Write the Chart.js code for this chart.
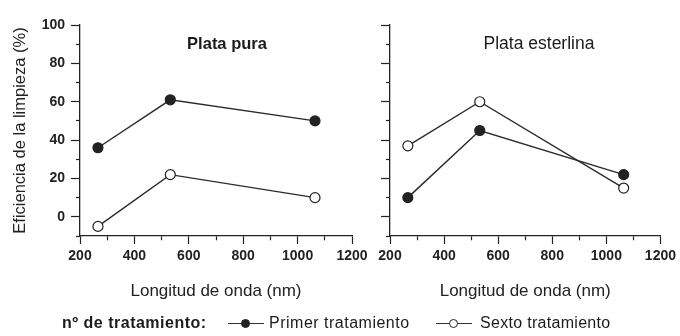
<!DOCTYPE html>
<html>
<head>
<meta charset="utf-8">
<script src="https://cdn.jsdelivr.net/npm/chart.js@4.4.1/dist/chart.umd.min.js"></script>
<style>
  body { margin: 0; background: #fff; width: 680px; height: 336px; overflow: hidden; position: relative;
         font-family: "Liberation Sans", Arial, sans-serif; color: #1c1c1c; }
  canvas { position: absolute; top: 0; }
  #left { left: 0; }
  #right { left: 360px; }
  .ptitle { position: absolute; top: 33px; line-height: 20px; transform: translateX(-50%); white-space: nowrap; }
  .lg { position: absolute; top: 314px; font-size: 16px; line-height: 18px; white-space: nowrap; letter-spacing: 0.5px; }
  .mk { position: absolute; top: 314px; width: 36px; height: 18px; }
  .mk::before { content: ""; position: absolute; left: 0; right: 0; top: 9px; border-top: 1.5px solid #333; }
  .mk i { position: absolute; left: 13px; top: 5px; width: 7px; height: 7px; border-radius: 50%; border: 1.2px solid #222; background: #222; }
  .mk.open i { background: #fff; }
</style>
</head>
<body>
<canvas id="left" width="372" height="336"></canvas>
<canvas id="right" width="320" height="336"></canvas>
<div class="ptitle" style="left:227px;font-size:16.5px;font-weight:bold">Plata pura</div>
<div class="ptitle" style="left:539px;font-size:17.5px">Plata esterlina</div>
<div class="lg" style="left:62px;font-weight:bold">nº de tratamiento:</div>
<span class="mk" style="left:228px"><i></i></span>
<div class="lg" style="left:269px">Primer tratamiento</div>
<span class="mk open" style="left:436px"><i></i></span>
<div class="lg" style="left:480px;letter-spacing:0.3px">Sexto tratamiento</div>
<script>
// wavelengths (nm) and cleaning efficiency (%)
const wavelengths = [266, 532, 1064];
const puraPrimer = [36, 61, 50];
const puraSexto = [-5, 22, 10];
const esterlinaPrimer = [10, 45, 22];
const esterlinaSexto = [37, 60, 15];

const xTicks = [200, 400, 600, 800, 1000, 1200];
const yTicks = [0, 20, 40, 60, 80, 100];

const ink = "#222";
const tickFont = { family: "Liberation Sans, Arial, sans-serif", size: 14, weight: "bold" };

function series(values, open) {
  return {
    data: wavelengths.map((x, i) => ({ x: x, y: values[i] })),
    borderColor: "#2a2a2a",
    borderWidth: 1.4,
    pointRadius: 5,
    pointHoverRadius: 5,
    pointBorderWidth: 1.2,
    pointBorderColor: ink,
    pointBackgroundColor: open ? "#fff" : ink,
    tension: 0,
  };
}

function makeChart(id, sets, showY, yWidth, padRight) {
  return new Chart(document.getElementById(id), {
    type: "line",
    data: { datasets: sets },
    options: {
      responsive: false,
      animation: false,
      layout: { padding: { left: 0, top: 25, right: padRight, bottom: 0 } },
      plugins: { legend: { display: false }, tooltip: { enabled: false } },
      scales: {
        x: {
          type: "linear",
          min: 200,
          max: 1200,
          afterFit: (s) => { s.height = 100; },
          border: { display: true, color: ink, width: 1.3 },
          grid: {
            drawOnChartArea: false,
            drawTicks: true,
            tickLength: 8,
            tickColor: ink,
            tickWidth: 1.2,
            tickBorderDash: (c) => (xTicks.includes(c.tick && c.tick.value) ? [] : [4, 10]),
          },
          ticks: {
            stepSize: 100,
            padding: 4,
            color: ink,
            font: tickFont,
            maxRotation: 0,
            autoSkip: false,
            callback: (v) => (xTicks.includes(v) ? String(v) : ""),
          },
          title: {
            display: true,
            text: "Longitud de onda (nm)",
            color: ink,
            font: { family: "Liberation Sans, Arial, sans-serif", size: 17 },
            padding: { top: 0, bottom: 34 },
          },
        },
        y: {
          min: -10,
          max: 100,
          afterFit: (s) => { s.width = yWidth; },
          border: { display: true, color: ink, width: 1.3 },
          grid: {
            drawOnChartArea: false,
            drawTicks: true,
            tickLength: 9,
            tickColor: ink,
            tickWidth: 1.2,
            tickBorderDash: (c) => (yTicks.includes(c.tick && c.tick.value) ? [] : [4, 5]),
            tickBorderDashOffset: (c) => (yTicks.includes(c.tick && c.tick.value) ? 0 : 4),
          },
          ticks: {
            stepSize: 10,
            padding: 6,
            color: ink,
            font: tickFont,
            autoSkip: false,
            callback: (v) => (showY && yTicks.includes(v) ? String(v) : ""),
          },
          title: {
            display: showY,
            text: "Eficiencia de la limpieza (%)",
            color: ink,
            font: { family: "Liberation Sans, Arial, sans-serif", size: 16.5 },
            padding: { top: 11, bottom: 0 },
          },
        },
      },
    },
  });
}

makeChart("left", [series(puraPrimer, false), series(puraSexto, true)], true, 80, 20);
makeChart("right", [series(esterlinaPrimer, false), series(esterlinaSexto, true)], false, 30, 17);
</script>
</body>
</html>
